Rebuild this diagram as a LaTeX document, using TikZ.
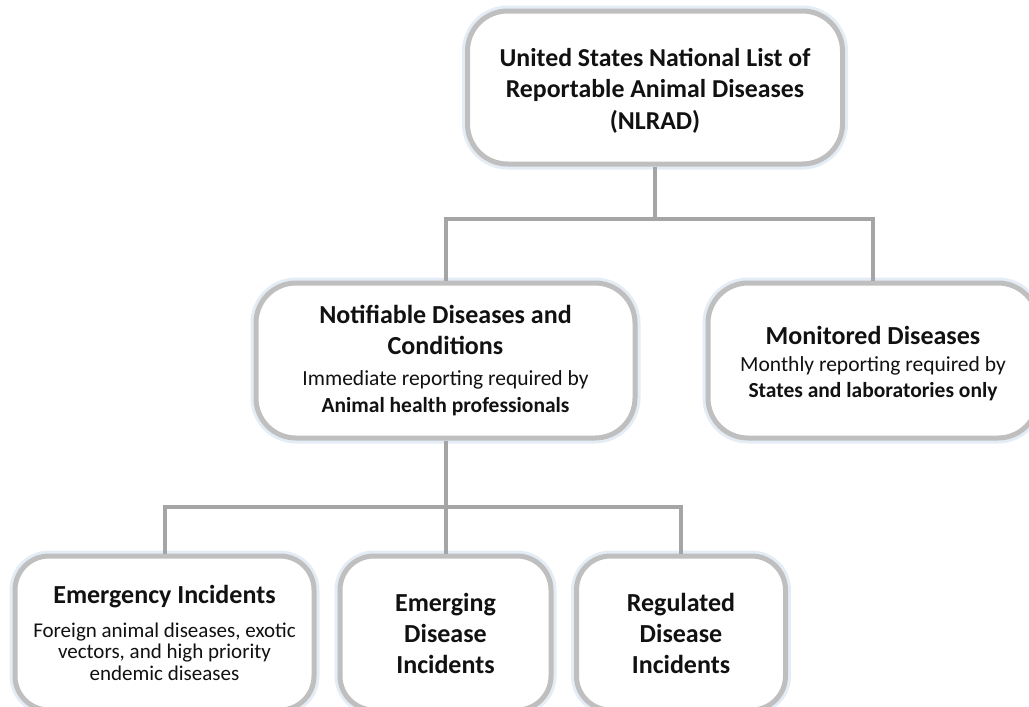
\documentclass[tikz,border=0pt]{standalone}
\usepackage{fontspec}
\setmainfont{Carlito}
\definecolor{boxline}{HTML}{BFBFBF}
\definecolor{connline}{HTML}{A5A5A5}
\definecolor{glowc}{HTML}{E4EDF6}
\definecolor{txt}{HTML}{111111}
\newcommand{\ttlfont}{\bfseries\fontsize{26}{31}\selectfont}
\newcommand{\subfont}{\mdseries\fontsize{21.5}{27}\selectfont}
\newcommand{\monsub}{\mdseries\fontsize{21.5}{26}\selectfont}
\newcommand{\subsmall}{\mdseries\fontsize{21}{21.5}\selectfont}
\begin{document}
\begin{tikzpicture}[x=1pt,y=-1pt,
  card/.style={rectangle, rounded corners=40pt, draw=boxline, line width=5pt, fill=white,
    preaction={draw=glowc, line width=11pt}, align=flush center, text=txt, inner sep=0pt},
  smallcard/.style={card, rounded corners=34pt},
  conn/.style={draw=connline, line width=4pt},
]
\useasboundingbox (0,0) rectangle (1029,707);
\clip (0,0) rectangle (1029,707);

\node[card, minimum width=375pt, minimum height=153pt, text width=360pt] (top) at (655,87.5)
  {\bfseries\fontsize{25.8}{31.5}\selectfont \rule{0pt}{24pt}United States National List of\\Reportable Animal Diseases\\(NLRAD)\par};

\node[card, minimum width=379pt, minimum height=155pt, text width=370pt] (notif) at (445.5,360.5)
  {{\ttlfont Notifiable Diseases and\\Conditions\par}\vspace{4pt}
   {\subfont Immediate reporting required by\\\textbf{Animal health professionals}\par}};

\node[card, minimum width=330pt, minimum height=155pt, text width=320pt] (mon) at (873,360.5)
  {{\ttlfont \rule{0pt}{25pt}Monitored Diseases\par}\vspace{1pt}
   {\monsub Monthly reporting required by\\\textbf{States and laboratories only}\par}};

\node[smallcard, minimum width=299pt, minimum height=154pt, text width=292pt] (emerg) at (164.5,633)
  {{\ttlfont Emergency Incidents\par}\vspace{12pt}
   {\subsmall Foreign animal diseases, exotic\\vectors, and high priority\\endemic diseases\par}};

\node[smallcard, minimum width=211pt, minimum height=154pt, text width=200pt] (emerging) at (445.5,633)
  {\ttlfont Emerging\\Disease\\Incidents\par};

\node[smallcard, minimum width=209pt, minimum height=154pt, text width=200pt] (reg) at (681,633)
  {\ttlfont Regulated\\Disease\\Incidents\par};

\coordinate (j1) at (655,219);
\coordinate (j2) at (445.5,507);

\draw[conn] (top.south) -- (j1);
\draw[conn] (notif.north) |- (j1) -| (mon.north);
\draw[conn] (notif.south) -- (emerging.north);
\draw[conn] (emerg.north) |- (j2) -| (reg.north);
\end{tikzpicture}
\end{document}
